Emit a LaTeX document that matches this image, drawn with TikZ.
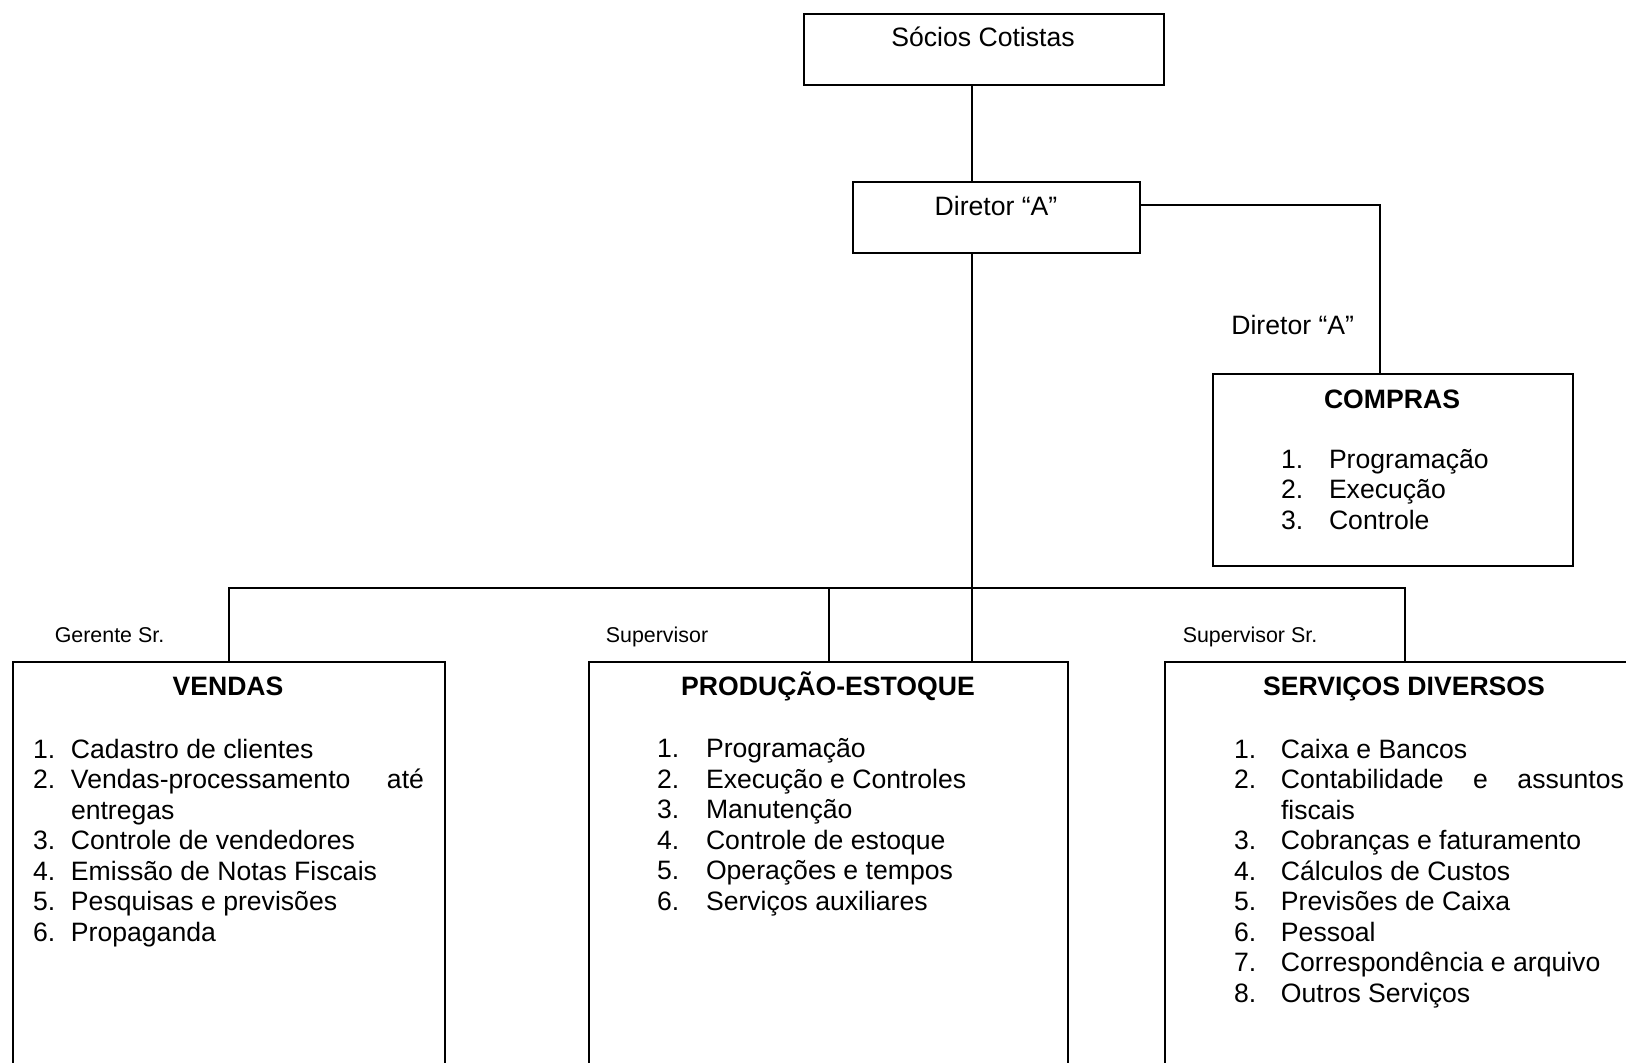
\documentclass[tikz,border=0pt]{standalone}
\usepackage{fontspec}
\setmainfont{Liberation Sans}
\newlength\numw
\newcommand\itm[2]{\hbox{\makebox[\numw][l]{#1}#2}}
\newcommand\lst[2]{\setlength\numw{#1}\vtop{#2}}
\begin{document}
\begin{tikzpicture}[x=0.5pt,y=-0.5pt,line width=1pt,
  box/.style={draw,rectangle,anchor=north west,inner sep=0pt},
  txt/.style={inner sep=0pt,anchor=base,font=\fontsize{13.3}{15.25}\selectfont},
  ttl/.style={txt,font=\fontsize{13.3}{15.25}\selectfont\bfseries},
  lab/.style={inner sep=0pt,anchor=base,font=\fontsize{10.7}{13}\selectfont},
  lst/.style={txt,anchor=base west}]
\clip (0,0) rectangle (1626,1063);
\fill[white] (0,0) rectangle (1626,1063);
% boxes
\node[box,minimum width=180pt,minimum height=35.5pt] (socios) at (803,13) {};
\node[box,minimum width=143.5pt,minimum height=35.5pt] (diretor) at (852,181) {};
\node[box,minimum width=180pt,minimum height=96pt] (compras) at (1212,373) {};
\node[box,minimum width=216pt,minimum height=230pt] (vendas) at (12,661) {};
\node[box,minimum width=239.5pt,minimum height=230pt] (prod) at (588,661) {};
\node[box,minimum width=240pt,minimum height=230pt] (serv) at (1164,661) {};
% texts
\node[txt] (tsocios) at (983,46.7) {Sócios Cotistas};
\node[txt] (tdiretor) at (996,216) {Diretor “A”};
\node[txt,anchor=base east] (ldiretor) at (1355,335) {Diretor “A”};
\node[ttl] (tcompras) at (1392,409) {COMPRAS};
\node[lst] (lcompras) at (1280,468.5) {\lst{24pt}{%
  \itm{1.}{Programação}\itm{2.}{Execução}\itm{3.}{Controle}}};
\node[ttl] (tvendas) at (228,695.7) {VENDAS};
\node[lst] (lvendas) at (32,758) {\lst{19pt}{%
  \itm{1.}{Cadastro de clientes}%
  \itm{2.}{\makebox[176.5pt][l]{Vendas-processamento\hfill até}}%
  \itm{}{entregas}%
  \itm{3.}{Controle de vendedores}%
  \itm{4.}{Emissão de Notas Fiscais}%
  \itm{5.}{Pesquisas e previsões}%
  \itm{6.}{Propaganda}}};
\node[ttl] (tprod) at (828,695.7) {PRODUÇÃO-ESTOQUE};
\node[lst] (lprod) at (656,757.5) {\lst{24.5pt}{%
  \itm{1.}{Programação}%
  \itm{2.}{Execução e Controles}%
  \itm{3.}{Manutenção}%
  \itm{4.}{Controle de estoque}%
  \itm{5.}{Operações e tempos}%
  \itm{6.}{Serviços auxiliares}}};
\node[ttl] (tserv) at (1404,695.7) {SERVIÇOS DIVERSOS};
\node[lst] (lserv) at (1233,758) {\lst{23.5pt}{%
  \itm{1.}{Caixa e Bancos}%
  \itm{2.}{\makebox[171.5pt][l]{Contabilidade\hfill e\hfill assuntos}}%
  \itm{}{fiscais}%
  \itm{3.}{Cobranças e faturamento}%
  \itm{4.}{Cálculos de Custos}%
  \itm{5.}{Previsões de Caixa}%
  \itm{6.}{Pessoal}%
  \itm{7.}{Correspondência e arquivo}%
  \itm{8.}{Outros Serviços}}};
\node[lab] (lgerente) at (109.5,642.7) {Gerente Sr.};
\node[lab] (lsup) at (657,642.5) {Supervisor};
\node[lab] (lsupsr) at (1250,642.5) {Supervisor Sr.};
% connectors
\coordinate (spine) at (972,0);
\coordinate (bus) at (0,588);
\coordinate (cbend) at (1380,205);
\draw (socios.south -| spine) -- (diretor.north -| spine);
\draw (diretor.east |- cbend) -- (cbend) -- (compras.north -| cbend);
\draw (diretor.south -| spine) -- (prod.north -| spine);
\draw (vendas.north) -- (vendas.north |- bus) -- (serv.north |- bus) -- (serv.north);
\draw (prod.north |- bus) -- (prod.north);
\end{tikzpicture}
\end{document}
